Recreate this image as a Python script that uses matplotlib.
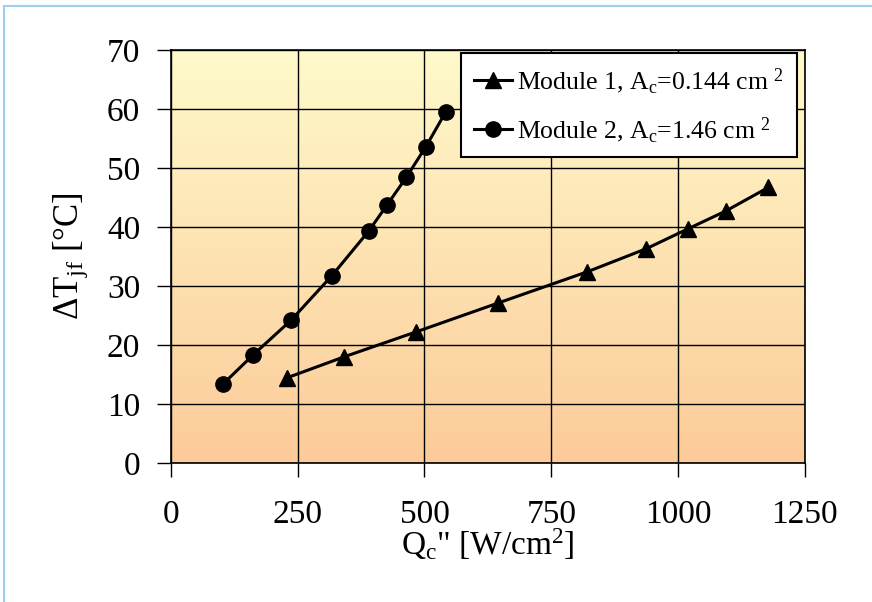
import numpy as np
import matplotlib
matplotlib.use("Agg")
import matplotlib.pyplot as plt
from matplotlib.colors import LinearSegmentedColormap

plt.rcParams['font.family'] = ['Liberation Serif', 'DejaVu Serif']
plt.rcParams['mathtext.fontset'] = 'custom'
plt.rcParams['mathtext.rm'] = 'Liberation Serif'
plt.rcParams['mathtext.it'] = 'Liberation Serif:italic'

# Module 1 (triangles)
q1 = [228, 342, 483, 645, 821, 937, 1020, 1094, 1178]
dt1 = [14.4, 18.0, 22.2, 27.1, 32.4, 36.3, 39.7, 42.7, 46.7]
# Module 2 (circles)
q2 = [103, 162, 237, 317, 390, 426, 464, 502, 542]
dt2 = [13.4, 18.3, 24.2, 31.7, 39.3, 43.7, 48.4, 53.5, 59.5]

xticks = [0, 250, 500, 750, 1000, 1250]
yticks = [0, 10, 20, 30, 40, 50, 60, 70]

fig = plt.figure(figsize=(8.72, 6.02), dpi=100)
ax = fig.add_axes([0.196, 0.231, 0.727, 0.686])

# gradient background
cmap = LinearSegmentedColormap.from_list("bg", ["#FCCB99", "#FFFACB"])
grad = np.linspace(0, 1, 256).reshape(-1, 1)
ax.imshow(grad, aspect='auto', cmap=cmap, origin='lower',
          extent=[0, 1, 0, 1], transform=ax.transAxes, zorder=0)

ax.plot(q1, dt1, color='black', lw=2.2, marker='^', ms=11, zorder=3,
        label=r'Module 1, A$_\mathrm{c}$=0.144 cm $^\mathrm{2}$')
ax.plot(q2, dt2, color='black', lw=2.2, marker='o', ms=11, zorder=3,
        label=r'Module 2, A$_\mathrm{c}$=1.46 cm $^\mathrm{2}$')

ax.set_xlim(0, 1250)
ax.set_ylim(0, 70)
ax.set_xticks(xticks)
ax.set_yticks(yticks)
ax.grid(True, color='black', lw=1, zorder=1)
ax.set_axisbelow(True)
ax.tick_params(direction='out', length=10, width=1, labelsize=24)
ax.tick_params(axis='x', pad=16)
ax.tick_params(axis='y', pad=12)
for s in ax.spines.values():
    s.set_linewidth(1.2)

ax.set_xlabel(r'Q$_\mathrm{c}$" [W/cm$^\mathrm{2}$]', fontsize=24, labelpad=-2)
ax.set_ylabel(r'$\Delta$T$_\mathrm{jf}$ [$\degree$C]', fontsize=25, labelpad=12)

leg = ax.legend(loc='upper right', fontsize=18.5, frameon=True, fancybox=False,
                framealpha=1, edgecolor='black', borderpad=0.5,
                handlelength=1.5, handletextpad=0.2, labelspacing=0.75,
                borderaxespad=0, bbox_to_anchor=(797 / 872, 1 - 53 / 602),
                bbox_transform=fig.transFigure)
leg.get_frame().set_linewidth(1.5)

# light blue slide border
fig.add_artist(plt.Line2D([0.005, 0.005], [0, 0.99], color='#9FCFEF', lw=1.5))
fig.add_artist(plt.Line2D([0.005, 1], [0.99, 0.99], color='#9FCFEF', lw=1.5))

fig.savefig("out.png", dpi=100)
